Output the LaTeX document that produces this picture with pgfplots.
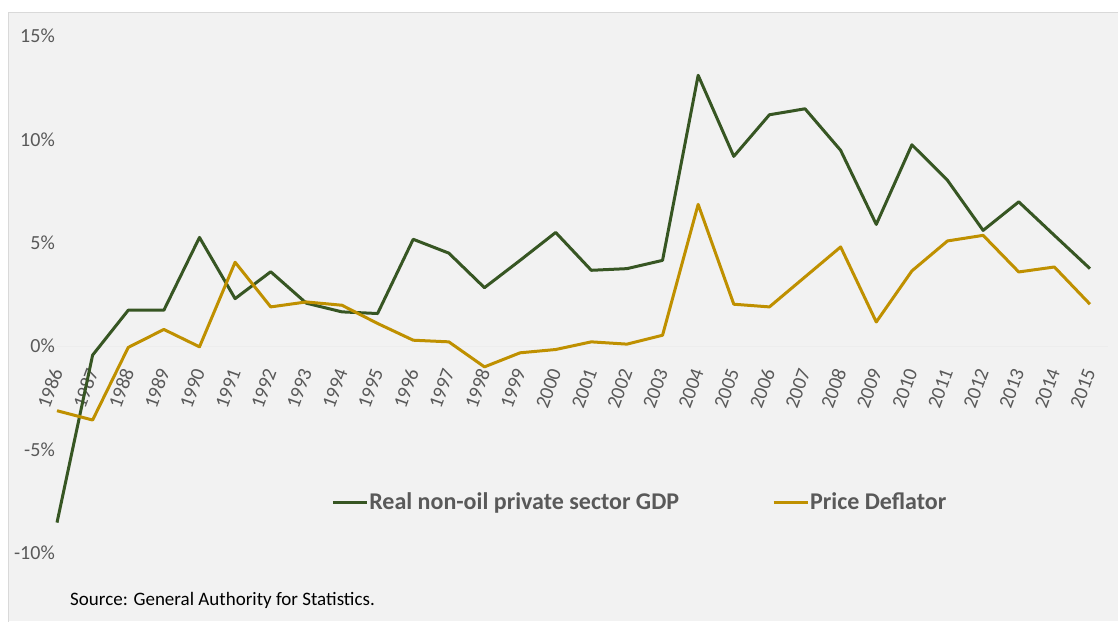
\documentclass[border=0pt]{standalone}
\usepackage{fontspec}
\setmainfont{Carlito}
\usepackage{pgfplots}
\usepackage{pgfplotstable}
\pgfplotsset{compat=1.18}
\definecolor{gdpgreen}{HTML}{375623}
\definecolor{defgold}{HTML}{BF9000}
\definecolor{txtgray}{HTML}{595959}
\definecolor{bggray}{HTML}{F2F2F2}
\definecolor{bordergray}{HTML}{D9D9D9}

\pgfplotstableread{
year gdp defl
1986 -8.53 -3.12
1987 -0.43 -3.57
1988 1.74 -0.06
1989 1.74 0.81
1990 5.26 -0.03
1991 2.30 4.06
1992 3.60 1.90
1993 2.08 2.14
1994 1.66 1.98
1995 1.58 1.10
1996 5.17 0.29
1997 4.50 0.21
1998 2.83 -1.00
1999 4.15 -0.32
2000 5.50 -0.16
2001 3.67 0.21
2002 3.75 0.10
2003 4.15 0.53
2004 13.10 6.86
2005 9.18 2.03
2006 11.19 1.90
2007 11.48 3.35
2008 9.47 4.80
2009 5.89 1.17
2010 9.74 3.64
2011 8.02 5.09
2012 5.60 5.36
2013 6.98 3.59
2014 5.36 3.83
2015 3.75 2.03
}\datatable

\begin{document}
\begin{tikzpicture}[x=1pt,y=1pt]
\fill[white] (0,0) rectangle (1118,621);
\useasboundingbox (0,0) rectangle (1118,621);
\fill[bggray] (8.3,0) rectangle (1118,608.5);
\draw[bordergray, line width=1.3pt] (8.3,-2) -- (8.3,608.5) -- (1120,608.5);
\begin{axis}[
  at={(57pt,68pt)}, anchor=south west,
  scale only axis, width=1050.8pt, height=517pt,
  xmin=1986, xmax=2015.5, ymin=-10, ymax=15,
  axis x line*=middle, axis y line*=left,
  hide obscured x ticks=false,
  x axis line style={draw=black!7, line width=1pt},
  y axis line style={draw=none},
  xtick={1986,...,2015},
  ytick={-10,-5,0,5,10,15},
  yticklabels={-10\%,-5\%,0\%,5\%,10\%,15\%},
  major tick length=0pt,
  tick style={draw=none},
  /pgf/number format/1000 sep={},
  /pgf/number format/assume math mode=true,
  xticklabel style={yshift=-23pt, rotate=70, anchor=east, inner sep=0pt,
    font=\fontsize{20}{24}\selectfont, text=txtgray},
  yticklabel style={anchor=east, inner sep=0pt, xshift=-2pt,
    font=\fontsize{20}{24}\selectfont, text=txtgray},
  clip=false,
  legend style={at={(0.258,0.0986)}, anchor=west, draw=none, fill=none,
    legend columns=2, font=\fontsize{24}{28}\selectfont\bfseries, text=txtgray,
    nodes={inner xsep=1pt},
    /tikz/every even column/.append style={column sep=92pt}},
  legend image code/.code={\draw[#1, line width=3pt] (0pt,0pt) -- (34pt,0pt);},
]
\addplot[gdpgreen, line width=3pt, line join=round] table[x=year, y=gdp] {\datatable};
\addlegendentry{Real non-oil private sector GDP}
\addplot[defgold, line width=3pt, line join=round] table[x=year, y=defl] {\datatable};
\addlegendentry{Price Deflator}
\end{axis}
\node[anchor=west, inner sep=0pt, font=\fontsize{19}{23}\selectfont] at (70,21) {Source: General Authority for Statistics.};
\end{tikzpicture}
\end{document}
